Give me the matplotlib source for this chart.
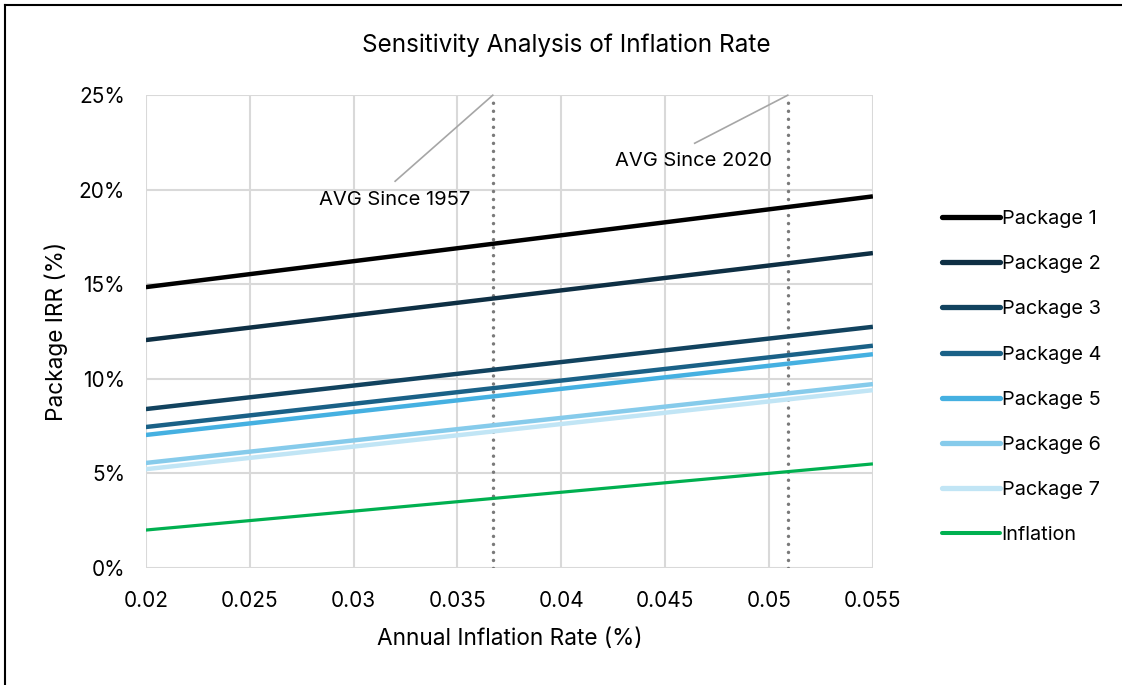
import matplotlib.pyplot as plt
from matplotlib.lines import Line2D
from matplotlib.ticker import PercentFormatter

plt.rcParams['font.family'] = ['Inter', 'DejaVu Sans']

# data (IRR in %, at inflation 0.02 and 0.055)
inflation = [0.02, 0.055]
series_names = ['Package 1', 'Package 2', 'Package 3', 'Package 4',
                'Package 5', 'Package 6', 'Package 7', 'Inflation']
pkg1 = [14.85, 19.65]
pkg2 = [12.05, 16.65]
pkg3 = [8.40, 12.75]
pkg4 = [7.45, 11.75]
pkg5 = [7.03, 11.30]
pkg6 = [5.55, 9.72]
pkg7 = [5.22, 9.40]
infl = [2.0, 5.5]
avg_1957 = 0.0367
avg_2020 = 0.0509

colors = ['#000000', '#0e2f44', '#12435f', '#1a6187',
          '#45b0e1', '#86cbeb', '#c1e5f5', '#00b050']
widths = [3.2, 3.2, 3.2, 3.2, 3.2, 3.2, 3.2, 2.3]

fig = plt.figure(figsize=(11.22, 6.85), dpi=100)
ax = fig.add_axes([0.130, 0.171, 0.648, 0.690])

all_series = [pkg1, pkg2, pkg3, pkg4, pkg5, pkg6, pkg7, infl]
for name, vals, c, w in zip(series_names, all_series, colors, widths):
    ax.plot(inflation, vals, color=c, lw=w, label=name, solid_capstyle='butt')

# average inflation markers
for xv in [avg_1957, avg_2020]:
    ax.plot([xv, xv], [0, 25], color='#7a7a7a', lw=2.5, ls=(0, (0.01, 2.3)),
            dash_capstyle='round', zorder=1)

# labels with leader lines up to the top of the dotted lines
ax.text(0.0320, 19.45, 'AVG Since 1957', ha='center', va='center', fontsize=14.5)
ax.plot([0.0320, avg_1957], [20.45, 25], color='#a6a6a6', lw=1.2, clip_on=False)
ax.text(0.04637, 21.5, 'AVG Since 2020', ha='center', va='center', fontsize=14.5)
ax.plot([0.04642, avg_2020], [22.46, 25], color='#a6a6a6', lw=1.2, clip_on=False)

ax.set_xlim(0.02, 0.055)
ax.set_ylim(0, 25)
ax.set_xticks([0.02, 0.025, 0.03, 0.035, 0.04, 0.045, 0.05, 0.055])
ax.set_xticklabels(['0.02', '0.025', '0.03', '0.035', '0.04', '0.045', '0.05', '0.055'])
ax.set_yticks([0, 5, 10, 15, 20, 25])
ax.yaxis.set_major_formatter(PercentFormatter(decimals=0))
ax.grid(True, color='#d9d9d9', lw=1.5)
ax.set_axisbelow(True)
for s in ax.spines.values():
    s.set_visible(False)
ax.tick_params(length=0, labelsize=15)
ax.tick_params(axis='x', pad=17)
ax.tick_params(axis='y', pad=15)

ax.set_xlabel('Annual Inflation Rate (%)', fontsize=16.3, labelpad=12)
ax.set_ylabel('Package IRR (%)', fontsize=16.3, labelpad=8)
fig.text(0.505, 0.934, 'Sensitivity Analysis of Inflation Rate', ha='center',
         va='center', fontsize=17.5)

handles = [Line2D([], [], color=c, lw=w + 0.6, solid_capstyle='round')
           for c, w in zip(colors, widths)]
ax.legend(handles, series_names, loc='upper left', bbox_to_anchor=(1.084, 0.774),
          frameon=False, fontsize=14.3, handlelength=2.9, handletextpad=0.1,
          labelspacing=1.37, borderaxespad=0)

# thin frame at left and top like the exported chart
fig.add_artist(Line2D([0.0045, 0.0045], [0, 0.993], color='black', lw=1.5))
fig.add_artist(Line2D([0.0045, 1.0], [0.993, 0.993], color='black', lw=1.5))

fig.savefig('out.png', dpi=100)
